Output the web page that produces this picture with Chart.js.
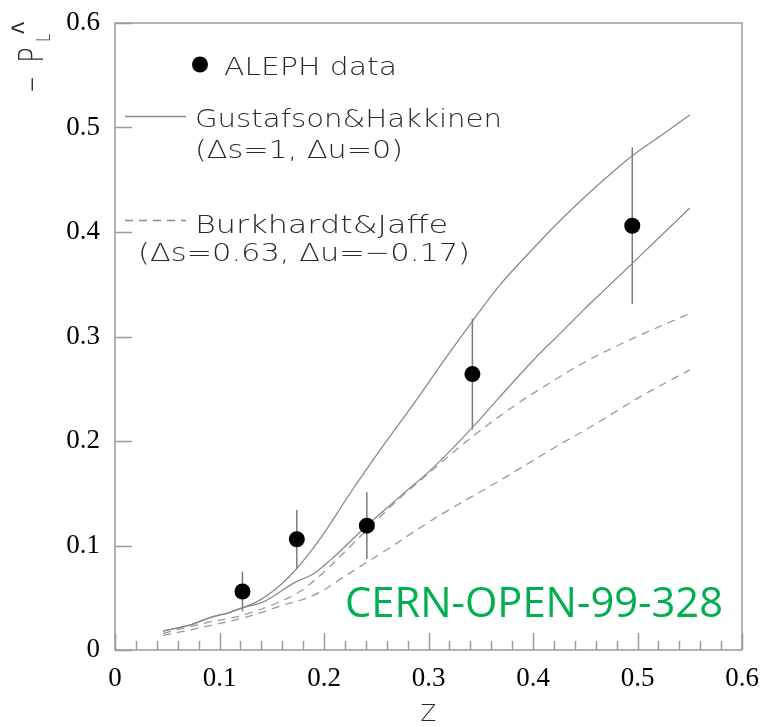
<!DOCTYPE html>
<html>
<head>
<meta charset="utf-8">
<script src="https://cdn.jsdelivr.net/npm/chart.js@4.4.1/dist/chart.umd.min.js"></script>
<style>
  html, body { margin: 0; padding: 0; background: #ffffff; }
  #wrap { width: 764px; height: 727px; position: relative; }
</style>
</head>
<body>
<div id="wrap"><canvas id="c" width="764" height="727"></canvas></div>
<script>
// ---- data ----
const alephZ   = [0.122, 0.174, 0.241, 0.342, 0.495];
const alephP   = [0.056, 0.106, 0.119, 0.264, 0.406];
const alephErr = [0.019, 0.028, 0.032, 0.053, 0.075];

// Gustafson & Hakkinen (solid curves)
const ghHighZ = [0.046, 0.072, 0.091, 0.110, 0.121, 0.139, 0.158, 0.174, 0.196, 0.225, 0.257, 0.289, 0.314, 0.343, 0.368, 0.400, 0.426, 0.460, 0.495, 0.525, 0.550];
const ghHighP = [0.018, 0.024, 0.031, 0.036, 0.040, 0.048, 0.062, 0.078, 0.106, 0.150, 0.196, 0.240, 0.276, 0.316, 0.349, 0.384, 0.411, 0.443, 0.473, 0.494, 0.512];
const ghLowZ  = [0.046, 0.072, 0.091, 0.110, 0.121, 0.142, 0.171, 0.190, 0.206, 0.241, 0.273, 0.305, 0.343, 0.368, 0.400, 0.426, 0.448, 0.471, 0.495, 0.550];
const ghLowP  = [0.018, 0.024, 0.031, 0.036, 0.040, 0.046, 0.064, 0.073, 0.086, 0.119, 0.147, 0.175, 0.214, 0.242, 0.277, 0.303, 0.325, 0.347, 0.370, 0.423];

// Burkhardt & Jaffe (dashed curves)
const bjHighZ = [0.046, 0.085, 0.121, 0.155, 0.177, 0.196, 0.219, 0.244, 0.270, 0.300, 0.343, 0.384, 0.420, 0.445, 0.493, 0.550];
const bjHighP = [0.016, 0.0255, 0.033, 0.045, 0.056, 0.071, 0.093, 0.118, 0.143, 0.169, 0.205, 0.235, 0.258, 0.273, 0.297, 0.322];
const bjLowZ  = [0.046, 0.085, 0.129, 0.161, 0.187, 0.199, 0.219, 0.260, 0.306, 0.368, 0.388, 0.416, 0.461, 0.502, 0.550];
const bjLowP  = [0.014, 0.022, 0.0325, 0.043, 0.051, 0.057, 0.070, 0.096, 0.126, 0.162, 0.174, 0.191, 0.217, 0.242, 0.268];

const xTickValues = [0, 0.1, 0.2, 0.3, 0.4, 0.5, 0.6];
const yTickValues = [0, 0.1, 0.2, 0.3, 0.4, 0.5, 0.6];

const legendLabels = ['ALEPH data', 'Gustafson&Hakkinen', '(\u0394s=1, \u0394u=0)', 'Burkhardt&Jaffe', '(\u0394s=0.63, \u0394u=\u22120.17)'];
const stampText = 'CERN-OPEN-99-328';

// ---- helpers ----
const pts = (xs, ys) => xs.map((x, i) => ({ x: x, y: ys[i] }));
const lineGrey = '#8a8a8a';
const fmt = v => (Math.abs(v) < 1e-9 ? '0' : v.toFixed(1));

function fitText(ctx, text, font, left, right, baseline, color) {
  ctx.save();
  ctx.font = font;
  ctx.fillStyle = color;
  ctx.textAlign = 'left';
  ctx.textBaseline = 'alphabetic';
  const w = ctx.measureText(text).width;
  const sx = (right - left) / w;
  ctx.translate(left, baseline);
  ctx.scale(sx, 1);
  ctx.fillText(text, 0, 0);
  ctx.restore();
}

const framePlugin = {
  id: 'frameTicksErrors',
  beforeDatasetsDraw(chart) {
    const { ctx, chartArea: a, scales: { x, y } } = chart;
    ctx.save();
    // error bars
    ctx.strokeStyle = '#7a7a7a';
    ctx.lineWidth = 1.5;
    alephZ.forEach((z, i) => {
      const px = x.getPixelForValue(z);
      ctx.beginPath();
      ctx.moveTo(px, y.getPixelForValue(alephP[i] + alephErr[i]));
      ctx.lineTo(px, y.getPixelForValue(alephP[i] - alephErr[i]));
      ctx.stroke();
    });
    // frame
    ctx.strokeStyle = '#9a9a9a';
    ctx.lineWidth = 1.5;
    ctx.strokeRect(a.left, a.top, a.right - a.left, a.bottom - a.top);
    // inward ticks on the x axis: major every 0.1, minor every 0.02
    ctx.beginPath();
    for (let k = 0; k <= 30; k++) {
      const v = k * 0.02;
      const px = Math.round(x.getPixelForValue(v)) + 0.5;
      const len = (k % 5 === 0) ? 17 : 9;
      ctx.moveTo(px, a.bottom);
      ctx.lineTo(px, a.bottom - len);
    }
    // inward ticks on the y axis: major every 0.1
    yTickValues.forEach(v => {
      const py = Math.round(y.getPixelForValue(v)) + 0.5;
      ctx.moveTo(a.left, py);
      ctx.lineTo(a.left + 17, py);
    });
    ctx.stroke();
    ctx.restore();
  },
  afterDraw(chart) {
    const { ctx } = chart;
    const legFont = "200 25px 'DejaVu Sans'";
    const legColor = '#2a2a2a';
    ctx.save();
    // legend: data point
    ctx.fillStyle = '#000';
    ctx.beginPath();
    ctx.arc(200, 64.5, 8, 0, Math.PI * 2);
    ctx.fill();
    fitText(ctx, legendLabels[0], legFont, 224, 397, 75, legColor);
    // solid line entry
    ctx.strokeStyle = lineGrey;
    ctx.lineWidth = 1.3;
    ctx.beginPath();
    ctx.moveTo(125, 116.5);
    ctx.lineTo(186, 116.5);
    ctx.stroke();
    fitText(ctx, legendLabels[1], legFont, 195, 502, 127, legColor);
    fitText(ctx, legendLabels[2], legFont, 195, 403, 158, legColor);
    // dashed line entry
    ctx.setLineDash([8, 6]);
    ctx.beginPath();
    ctx.moveTo(125, 220.5);
    ctx.lineTo(186, 220.5);
    ctx.stroke();
    ctx.setLineDash([]);
    fitText(ctx, legendLabels[3], legFont, 195, 448, 233, legColor);
    fitText(ctx, legendLabels[4], legFont, 138, 470, 261, legColor);

    // green stamp
    fitText(ctx, stampText, "42px 'Open Sans'", 345, 723, 617, '#00b050');

    // y-axis title: −P_L^ (rotated)
    ctx.save();
    ctx.translate(43, 93);
    ctx.rotate(-Math.PI / 2);
    ctx.scale(1, 1.32);
    ctx.fillStyle = '#2a2a2a';
    ctx.textBaseline = 'alphabetic';
    ctx.font = "200 26px 'DejaVu Sans'";
    ctx.save();
    const mw = ctx.measureText('\u2212').width;
    ctx.scale(17 / mw, 1);
    ctx.fillText('\u2212', 0, 0);
    ctx.restore();
    ctx.fillText('P', 30, 0);
    ctx.font = "200 15px 'DejaVu Sans'";
    ctx.fillText('L', 51, 7 / 1.32);
    ctx.font = "26px 'Liberation Sans'";
    ctx.fillText('^', 59, -5.5);
    ctx.restore();
    ctx.restore();
  }
};

const cfg = {
  type: 'scatter',
  data: {
    datasets: [
      { label: 'ALEPH data', data: pts(alephZ, alephP), pointRadius: 8, pointHoverRadius: 8,
        backgroundColor: '#000', borderWidth: 0, showLine: false },
      { label: 'Gustafson&Hakkinen (high)', data: pts(ghHighZ, ghHighP), showLine: true, pointRadius: 0,
        borderColor: lineGrey, borderWidth: 1.3, cubicInterpolationMode: 'monotone', fill: false },
      { label: 'Gustafson&Hakkinen (low)', data: pts(ghLowZ, ghLowP), showLine: true, pointRadius: 0,
        borderColor: lineGrey, borderWidth: 1.3, cubicInterpolationMode: 'monotone', fill: false },
      { label: 'Burkhardt&Jaffe (high)', data: pts(bjHighZ, bjHighP), showLine: true, pointRadius: 0,
        borderColor: '#9a9a9a', borderWidth: 1.3, borderDash: [8, 6], cubicInterpolationMode: 'monotone', fill: false },
      { label: 'Burkhardt&Jaffe (low)', data: pts(bjLowZ, bjLowP), showLine: true, pointRadius: 0,
        borderColor: '#9a9a9a', borderWidth: 1.3, borderDash: [8, 6], cubicInterpolationMode: 'monotone', fill: false }
    ]
  },
  options: {
    responsive: false,
    animation: false,
    devicePixelRatio: 1,
    layout: { padding: { top: 23, right: 22, left: 0, bottom: 0 } },
    plugins: { legend: { display: false }, tooltip: { enabled: false } },
    scales: {
      x: {
        type: 'linear', min: 0, max: 0.6,
        afterFit: s => { s.height = 77; s.paddingLeft = 0; s.paddingRight = 0; },
        afterBuildTicks: s => { s.ticks = xTickValues.map(v => ({ value: v })); },
        grid: { display: false, drawTicks: false },
        border: { display: false },
        ticks: { color: '#000', padding: 13, maxRotation: 0, autoSkip: false,
                 font: { family: 'Liberation Serif', size: 27 }, callback: v => fmt(v) },
        title: { display: true, text: 'Z', color: '#2a2a2a',
                 font: { family: 'DejaVu Sans', size: 23, weight: '200', lineHeight: 1 }, padding: { top: 0, bottom: 0 } }
      },
      y: {
        type: 'linear', min: 0, max: 0.6,
        afterFit: s => { s.width = 115; s.paddingTop = 0; s.paddingBottom = 0; },
        afterBuildTicks: s => { s.ticks = yTickValues.map(v => ({ value: v })); },
        grid: { display: false, drawTicks: false },
        border: { display: false },
        ticks: { color: '#000', padding: 15, autoSkip: false,
                 font: { family: 'Liberation Serif', size: 27 }, callback: v => fmt(v) }
      }
    }
  },
  plugins: [framePlugin]
};

new Chart(document.getElementById('c'), cfg);
</script>
</body>
</html>
